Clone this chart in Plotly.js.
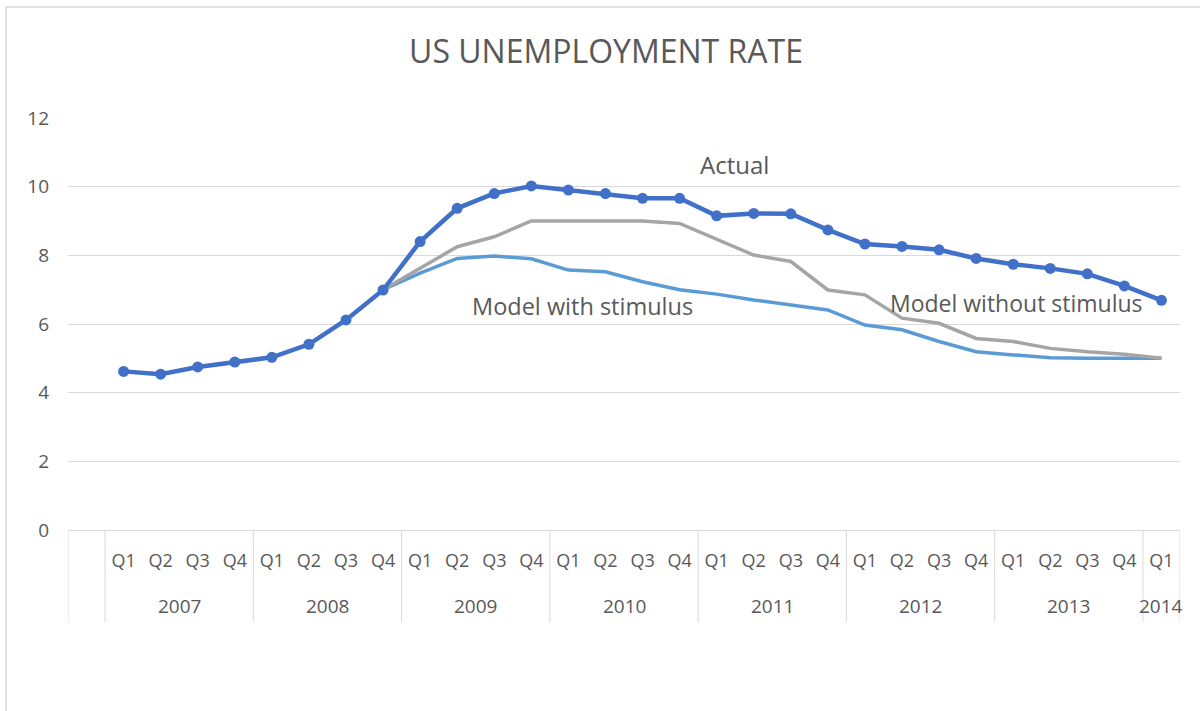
<!DOCTYPE html>
<html>
<head>
<meta charset="utf-8">
<script src="https://cdn.plot.ly/plotly-3.0.1.min.js"></script>
<style>
  html, body { margin: 0; padding: 0; background: #ffffff; }
  #chart { width: 1200px; height: 711px; }
</style>
</head>
<body>
<div id="chart"></div>
<script>
// ---- data ----
const quarters = ["Q1","Q2","Q3","Q4","Q1","Q2","Q3","Q4","Q1","Q2","Q3","Q4","Q1","Q2","Q3","Q4",
                  "Q1","Q2","Q3","Q4","Q1","Q2","Q3","Q4","Q1","Q2","Q3","Q4","Q1"];
const years = ["2007","2007","2007","2007","2008","2008","2008","2008","2009","2009","2009","2009",
               "2010","2010","2010","2010","2011","2011","2011","2011","2012","2012","2012","2012",
               "2013","2013","2013","2013","2014"];
const actual = [4.62, 4.54, 4.75, 4.89, 5.03, 5.41, 6.12, 6.99, 8.40, 9.37, 9.80, 10.02,
                9.90, 9.80, 9.66, 9.66, 9.15, 9.22, 9.21, 8.74, 8.33, 8.26, 8.16, 7.91,
                7.74, 7.62, 7.46, 7.11, 6.69];
const withoutStimulus = [null, null, null, null, null, null, null, 7.00, 7.62, 8.25, 8.54, 9.00,
                         9.00, 9.00, 9.00, 8.93, 8.47, 8.01, 7.82, 6.99, 6.85, 6.17, 6.02, 5.58,
                         5.49, 5.29, 5.19, 5.12, 5.00];
const withStimulus = [null, null, null, null, null, null, null, 7.00, 7.48, 7.91, 7.98, 7.90,
                      7.57, 7.52, 7.23, 7.00, 6.87, 6.70, 6.55, 6.41, 5.97, 5.83, 5.49, 5.19,
                      5.10, 5.02, 5.00, 5.00, 5.00];
const yTicks = [0, 2, 4, 6, 8, 10, 12];

// ---- build ----
const idx = quarters.map((_, i) => i);
const textColor = '#595959';
const gridColor = '#d9d9d9';

const traces = [
  { x: idx, y: withStimulus, type: 'scatter', mode: 'lines', name: 'Model with stimulus',
    line: { color: '#5b9bd5', width: 3.5 }, connectgaps: false, hoverinfo: 'y' },
  { x: idx, y: withoutStimulus, type: 'scatter', mode: 'lines', name: 'Model without stimulus',
    line: { color: '#a5a5a5', width: 3.5 }, connectgaps: false, hoverinfo: 'y' },
  { x: idx, y: actual, type: 'scatter', mode: 'lines+markers', name: 'Actual',
    line: { color: '#4070c8', width: 4.5 }, marker: { color: '#4070c8', size: 11 }, hoverinfo: 'y' }
];

// year groups: boundaries and centers
const groups = [];
years.forEach((yr, i) => {
  const g = groups.length ? groups[groups.length - 1] : null;
  if (g && g.year === yr) { g.end = i; } else { groups.push({ year: yr, start: i, end: i }); }
});

const plotH = 711 - 118 - 181;
const axisDepth = -92 / plotH;

const shapes = [];
// leading blank category lines (left plot edge and first boundary)
shapes.push({ type: 'line', xref: 'x', yref: 'paper', x0: -1.5, x1: -1.5, y0: 0, y1: axisDepth,
              line: { color: gridColor, width: 1 } });
shapes.push({ type: 'line', xref: 'x', yref: 'paper', x0: -0.5, x1: -0.5, y0: 0, y1: axisDepth,
              line: { color: gridColor, width: 1 } });
groups.forEach(g => {
  shapes.push({ type: 'line', xref: 'x', yref: 'paper', x0: g.end + 0.5, x1: g.end + 0.5,
                y0: 0, y1: axisDepth, line: { color: gridColor, width: 1 } });
});
// outer chart border
shapes.push({ type: 'rect', xref: 'paper', yref: 'paper', x0: (6 - 68) / 1112, x1: (1230 - 68) / 1112,
              y0: (530 - 740) / plotH, y1: (530 - 7) / plotH, line: { color: gridColor, width: 1.5 },
              fillcolor: 'rgba(0,0,0,0)', layer: 'below' });

const annotations = groups.map(g => ({
  x: (g.start + g.end) / 2, xref: 'x', y: 0, yref: 'paper', yshift: -76,
  text: g.year, showarrow: false, xanchor: 'center', yanchor: 'middle',
  font: { family: 'Open Sans', size: 19, color: textColor }
}));
annotations.push(
  { x: 16.47, y: 10.66, xref: 'x', yref: 'y', text: 'Actual', showarrow: false,
    font: { family: 'Open Sans', size: 24, color: textColor } },
  { x: 12.39, y: 6.52, xref: 'x', yref: 'y', text: 'Model with stimulus', showarrow: false,
    font: { family: 'Open Sans', size: 23.5, color: textColor } },
  { x: 24.08, y: 6.61, xref: 'x', yref: 'y', text: 'Model without stimulus', showarrow: false,
    font: { family: 'Open Sans', size: 23, color: textColor } }
);

const layout = {
  width: 1200, height: 711,
  margin: { l: 68, r: 20, t: 118, b: 181 },
  paper_bgcolor: '#ffffff', plot_bgcolor: '#ffffff',
  showlegend: false,
  title: { text: 'US UNEMPLOYMENT RATE', x: 0.505, xanchor: 'center', y: 1 - 52 / 711, yanchor: 'middle',
           font: { family: 'Open Sans', size: 32, color: textColor } },
  xaxis: {
    range: [-1.5, 28.5], tickmode: 'array', tickvals: idx, ticktext: quarters,
    showgrid: false, zeroline: false, showline: true, linecolor: gridColor, linewidth: 1,
    ticks: '', ticklabelstandoff: 14,
    tickfont: { family: 'Open Sans', size: 18, color: textColor }, fixedrange: true
  },
  yaxis: {
    range: [0, 12], tickmode: 'array', tickvals: yTicks, ticktext: yTicks.map(String),
    showgrid: true, gridcolor: gridColor, gridwidth: 1, zeroline: false, showline: false,
    ticks: '', ticklabelstandoff: 18,
    tickfont: { family: 'Open Sans', size: 19, color: textColor }, fixedrange: true
  },
  shapes: shapes,
  annotations: annotations
};

Plotly.newPlot('chart', traces, layout, { displayModeBar: false, staticPlot: true });
</script>
</body>
</html>
